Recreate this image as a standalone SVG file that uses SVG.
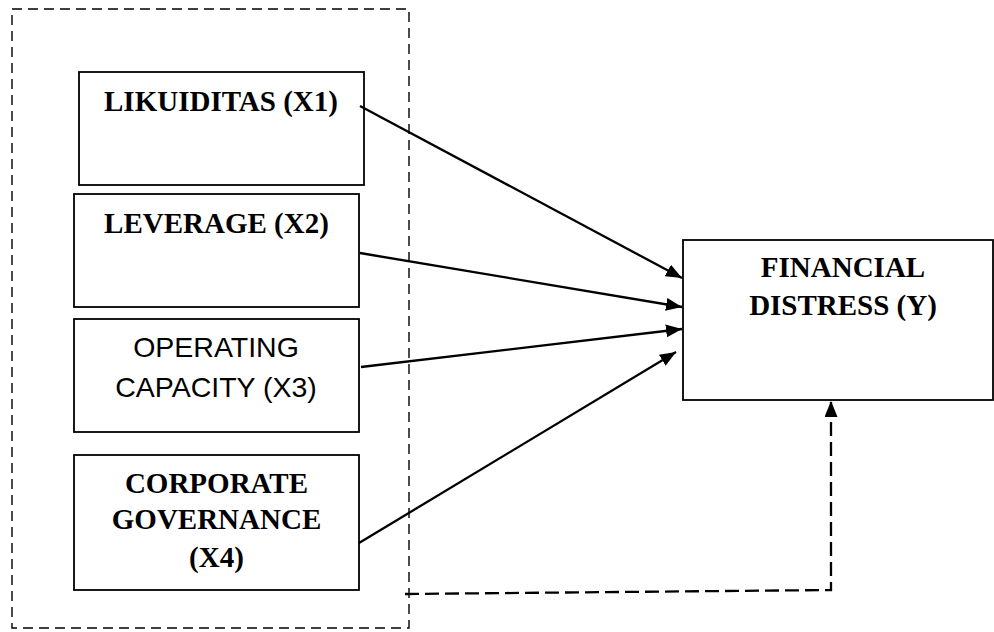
<svg xmlns="http://www.w3.org/2000/svg" width="994" height="632" viewBox="0 0 994 632">
<style>
.box{fill:#fff;stroke:#000;stroke-width:1.8}
.bt{font-family:"Liberation Serif","Times New Roman",serif;font-weight:bold;font-size:29px;fill:#000;text-anchor:middle}
.st{font-family:"Liberation Sans",Arial,sans-serif;font-size:28.5px;fill:#000;text-anchor:middle}
.conn{stroke:#000;stroke-width:2.3;fill:none}
</style>
<defs>
<marker id="ah" viewBox="0 0 16 13" refX="16" refY="6.5" markerWidth="16" markerHeight="13" markerUnits="userSpaceOnUse" orient="auto">
<path d="M0,0 L16,6.5 L0,13 Z" fill="#000"/>
</marker>
</defs>
<rect x="12" y="9" width="397" height="619" fill="none" stroke="#000" stroke-width="1.4" stroke-dasharray="10,6"/>
<g id="x1"><rect class="box" x="79" y="72" width="285" height="113"/><text class="bt" x="221" y="111">LIKUIDITAS (X1)</text></g>
<g id="x2"><rect class="box" x="74" y="194" width="285" height="113"/><text class="bt" x="216.5" y="233">LEVERAGE (X2)</text></g>
<g id="x3"><rect class="box" x="74" y="319" width="285" height="113"/><text class="st" x="216" y="357">OPERATING</text><text class="st" x="216" y="397">CAPACITY (X3)</text></g>
<g id="x4"><rect class="box" x="74" y="455" width="285" height="135"/><text class="bt" x="216.5" y="493">CORPORATE</text><text class="bt" x="216.5" y="529">GOVERNANCE</text><text class="bt" x="216.5" y="567">(X4)</text></g>
<g id="y"><rect class="box" x="683" y="240" width="310" height="160"/><text class="bt" x="843" y="277">FINANCIAL</text><text class="bt" x="843" y="315">DISTRESS (Y)</text></g>
<g id="connectors">
<line class="conn" x1="360" y1="106" x2="682" y2="278" marker-end="url(#ah)"/>
<line class="conn" x1="360" y1="253" x2="682" y2="307" marker-end="url(#ah)"/>
<line class="conn" x1="361" y1="367" x2="682" y2="329" marker-end="url(#ah)"/>
<line class="conn" x1="359" y1="543" x2="676" y2="352" marker-end="url(#ah)"/>
<polyline class="conn" points="405,594 831,590 831,401" stroke-dasharray="14,6" marker-end="url(#ah)"/>
</g>
</svg>
